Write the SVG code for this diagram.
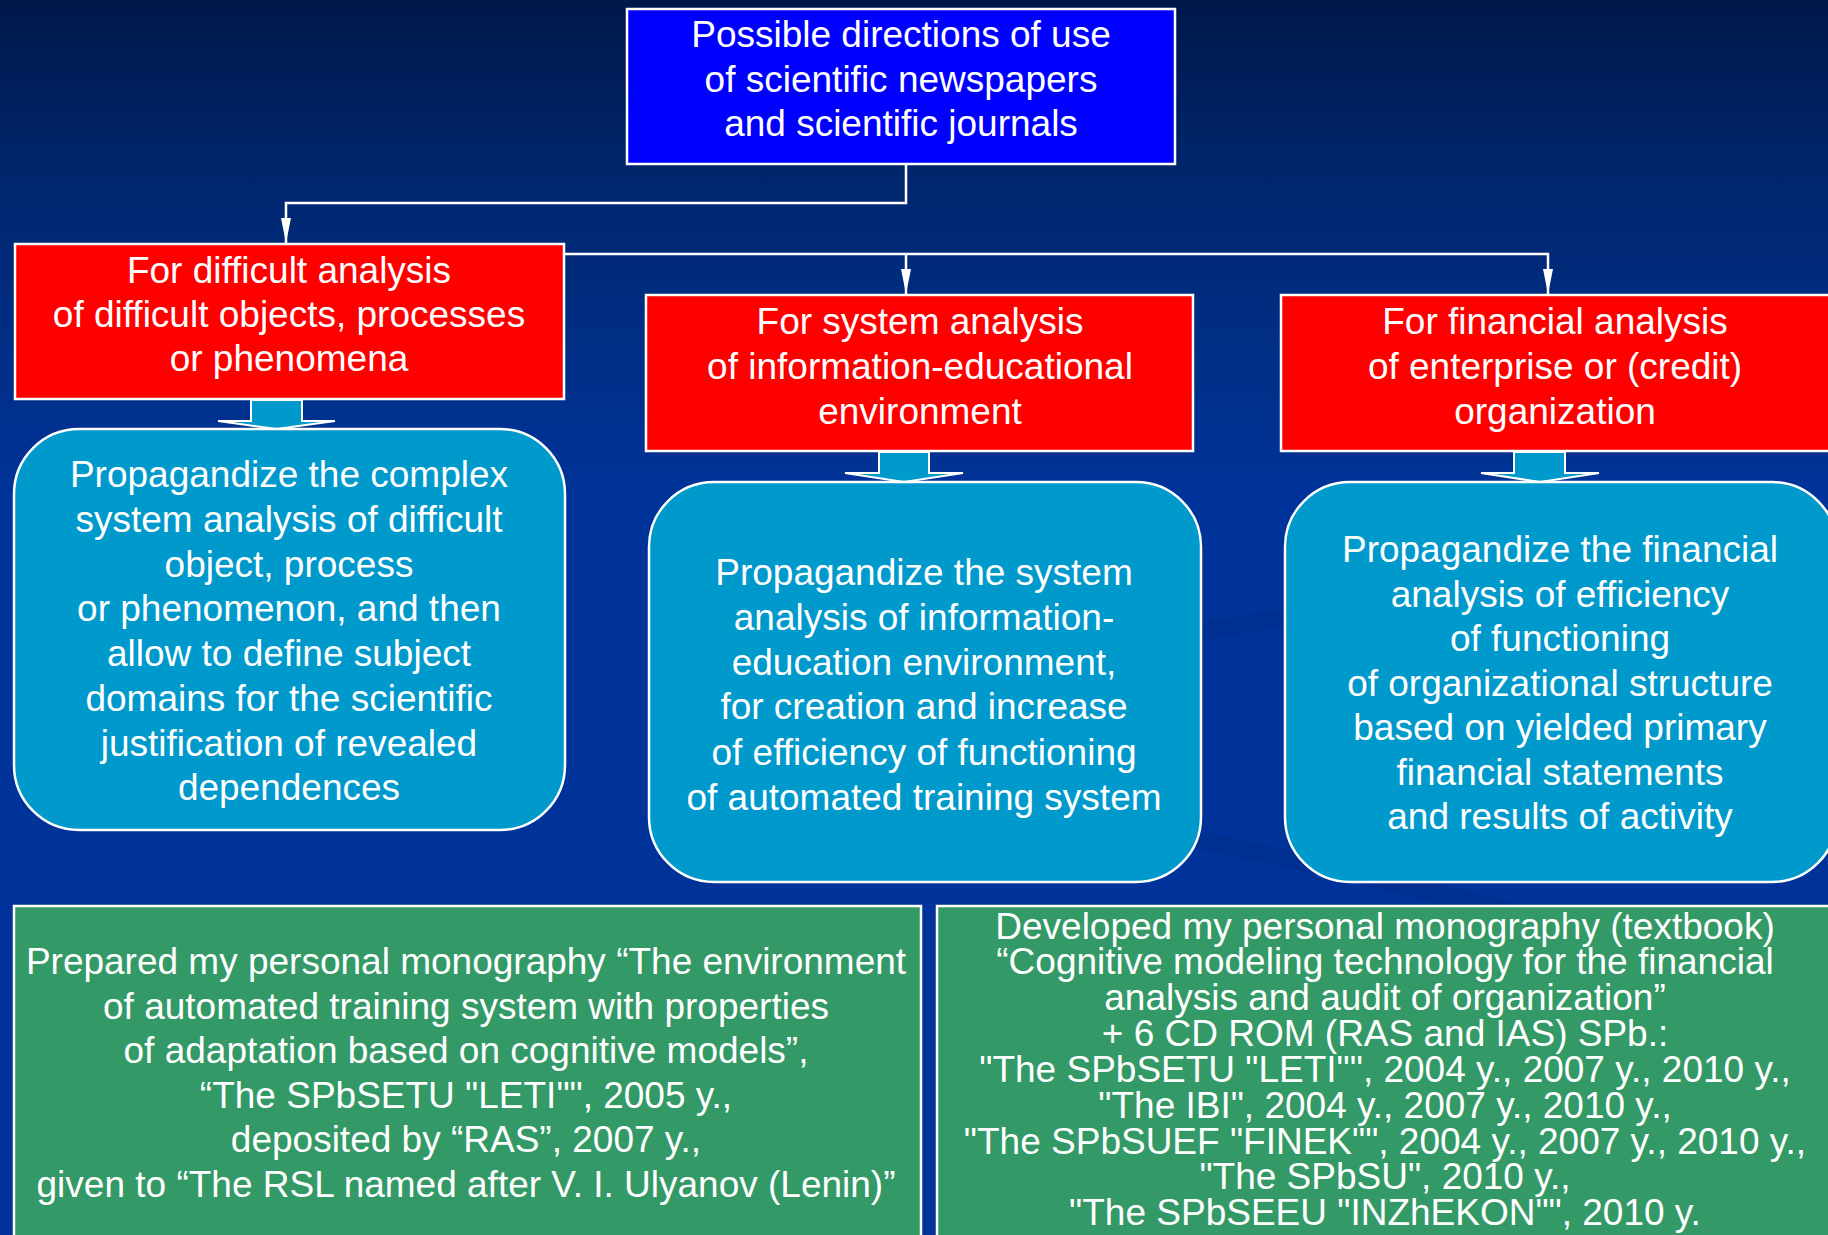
<svg xmlns="http://www.w3.org/2000/svg" width="1828" height="1235" viewBox="0 0 1828 1235">
<defs>
<linearGradient id="bg" x1="0" y1="0" x2="0" y2="1">
<stop offset="0" stop-color="#00184a"/>
<stop offset="0.12" stop-color="#002468"/>
<stop offset="0.25" stop-color="#002d80"/>
<stop offset="0.4" stop-color="#003399"/>
<stop offset="1" stop-color="#003399"/>
</linearGradient>
<marker id="arr" markerUnits="userSpaceOnUse" markerWidth="26" markerHeight="12" refX="25" refY="6" orient="auto" viewBox="0 0 26 12">
<path d="M0,1 L25,6 L0,11 Z" fill="#ffffff"/>
</marker>
<style>
text{font-family:"Liberation Sans",Arial,sans-serif;font-size:37px;fill:#ffffff;text-anchor:middle}
.top{fill:#0000ff;stroke:#ffffff;stroke-width:2.5}
.red{fill:#ff0000;stroke:#ffffff;stroke-width:2.5}
.cyan{fill:#0099cc;stroke:#ffffff;stroke-width:2.5}
.green{fill:#339966;stroke:#ffffff;stroke-width:2.5}
.fat{fill:#0099cc;stroke:#ffffff;stroke-width:2}
.conn{fill:none;stroke:#ffffff;stroke-width:2.5}
</style>
</defs>
<rect x="0" y="0" width="1828" height="1235" fill="url(#bg)"/>
<g opacity="0.12" fill="none" stroke="#001a66" stroke-width="18">
<path d="M1150,640 Q1400,600 1828,520"/>
<path d="M1150,830 Q1500,900 1828,1000"/>
</g>
<g id="connectors">
<path class="conn" d="M906,164 V203 H286 V243" marker-end="url(#arr)"/>
<path class="conn" d="M565,254 H1548 V294" marker-end="url(#arr)"/>
<path class="conn" d="M906,254 V294" marker-end="url(#arr)"/>
<polygon class="fat" points="251,400 302,400 302,421 335,421 276.5,429 218,421 251,421"/>
<polygon class="fat" points="879,452 929,452 929,473 963,473 904,482 845,473 879,473"/>
<polygon class="fat" points="1514,452 1565,452 1565,473 1599,473 1540,482 1481,473 1514,473"/>
</g>
<g id="top">
<rect class="top" x="627" y="9" width="548" height="155"/>
<text x="901" y="47">Possible directions of use</text>
<text x="901" y="91.5">of scientific newspapers</text>
<text x="901" y="136">and scientific journals</text>
</g>
<g id="red1">
<rect class="red" x="15" y="244" width="549" height="155"/>
<text x="289" y="283">For difficult analysis</text>
<text x="289" y="327">of difficult objects, processes</text>
<text x="289" y="371">or phenomena</text>
</g>
<g id="red2">
<rect class="red" x="646" y="295" width="547" height="156"/>
<text x="920" y="334">For system analysis</text>
<text x="920" y="379">of information-educational</text>
<text x="920" y="424">environment</text>
</g>
<g id="red3">
<rect class="red" x="1281" y="295" width="560" height="156"/>
<text x="1555" y="334">For financial analysis</text>
<text x="1555" y="379">of enterprise or (credit)</text>
<text x="1555" y="424">organization</text>
</g>
<g id="cyan1">
<rect class="cyan" x="14" y="429" width="551" height="401" rx="65" ry="65"/>
<text x="289" y="487">Propagandize the complex</text>
<text x="289" y="532">system analysis of difficult</text>
<text x="289" y="577">object, process</text>
<text x="289" y="621">or phenomenon, and then</text>
<text x="289" y="666">allow to define subject</text>
<text x="289" y="711">domains for the scientific</text>
<text x="289" y="756">justification of revealed</text>
<text x="289" y="800">dependences</text>
</g>
<g id="cyan2">
<rect class="cyan" x="649" y="482" width="552" height="400" rx="65" ry="65"/>
<text x="924" y="585">Propagandize the system</text>
<text x="924" y="630">analysis of information-</text>
<text x="924" y="675">education environment,</text>
<text x="924" y="719">for creation and increase</text>
<text x="924" y="765">of efficiency of functioning</text>
<text x="924" y="810">of automated training system</text>
</g>
<g id="cyan3">
<rect class="cyan" x="1285" y="482" width="552" height="400" rx="65" ry="65"/>
<text x="1560" y="562">Propagandize the financial</text>
<text x="1560" y="606.5">analysis of efficiency</text>
<text x="1560" y="651">of functioning</text>
<text x="1560" y="695.5">of organizational structure</text>
<text x="1560" y="740">based on yielded primary</text>
<text x="1560" y="784.5">financial statements</text>
<text x="1560" y="829">and results of activity</text>
</g>
<g id="green1">
<rect class="green" x="14" y="906" width="907" height="340"/>
<text x="466" y="974">Prepared my personal monography “The environment</text>
<text x="466" y="1018.6">of automated training system with properties</text>
<text x="466" y="1063">of adaptation based on cognitive models”,</text>
<text x="466" y="1107.8">“The SPbSETU "LETI"", 2005 y.,</text>
<text x="466" y="1152">deposited by “RAS”, 2007 y.,</text>
<text x="466" y="1197">given to “The RSL named after V. I. Ulyanov (Lenin)”</text>
</g>
<g id="green2">
<rect class="green" x="937" y="906" width="910" height="340"/>
<text x="1385" y="938.5">Developed my personal monography (textbook)</text>
<text x="1385" y="974.3">“Cognitive modeling technology for the financial</text>
<text x="1385" y="1010.1">analysis and audit of organization”</text>
<text x="1385" y="1045.9">+ 6 CD ROM (RAS and IAS) SPb.:</text>
<text x="1385" y="1081.5">"The SPbSETU "LETI"", 2004 y., 2007 y., 2010 y.,</text>
<text x="1385" y="1117.5">"The IBI", 2004 y., 2007 y., 2010 y.,</text>
<text x="1385" y="1153.5">"The SPbSUEF "FINEK"", 2004 y., 2007 y., 2010 y.,</text>
<text x="1385" y="1189.1">"The SPbSU", 2010 y.,</text>
<text x="1385" y="1224.9">"The SPbSEEU "INZhEKON"", 2010 y.</text>
</g>
</svg>
